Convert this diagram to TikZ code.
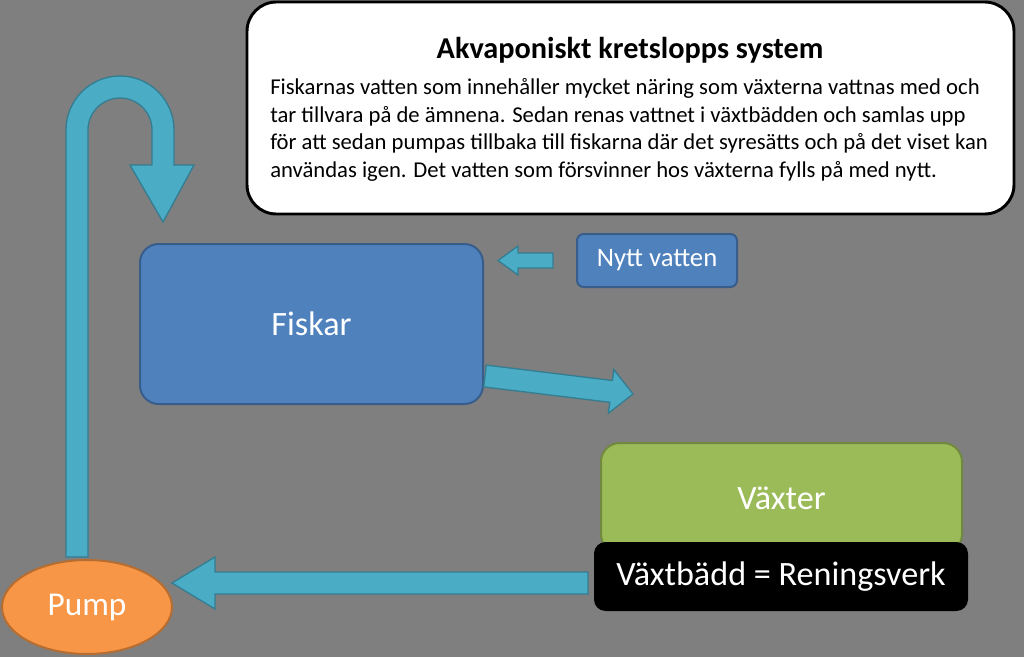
\documentclass[tikz,border=0pt]{standalone}
\usepackage{fontspec}
\setmainfont{Carlito}
\usetikzlibrary{shapes.geometric}
\definecolor{bg}{HTML}{7F7F7F}
\definecolor{fblue}{HTML}{4F81BD}\definecolor{dblue}{HTML}{385D8A}
\definecolor{aq}{HTML}{4BACC6}\definecolor{daq}{HTML}{357D91}
\definecolor{gr}{HTML}{9BBB59}\definecolor{dgr}{HTML}{71893F}
\definecolor{org}{HTML}{F79646}\definecolor{dorg}{HTML}{B66D31}
\begin{document}
\begin{tikzpicture}[x=0.75pt,y=-0.75pt,
  boxstyle/.style={draw, line width=1.5pt, rounded corners=14pt, text=white, align=center, inner sep=0pt},
  flow/.style={fill=aq, draw=daq, line width=1pt}]
\fill[bg] (0,0) rectangle (1024,657);
\useasboundingbox (0,0) rectangle (1024,657);
% title box
\node[draw=black, fill=white, line width=2.2pt, rounded corners=22pt, minimum width=767*0.75pt, minimum height=212*0.75pt] (title) at (630.5,108) {};
\node[font=\bfseries\fontsize{22.7}{26}\selectfont] (head) at (630,50) {Akvaponiskt kretslopps system};
\node[anchor=north west, align=left, font=\fontsize{17}{20.8}\selectfont, inner sep=0pt] (body) at (270,78) {Fiskarnas vatten som innehåller mycket näring som växterna vattnas med och\\tar tillvara på de ämnena. Sedan renas vattnet i växtbädden och samlas upp\\för att sedan pumpas tillbaka till fiskarna där det syresätts och på det viset kan\\användas igen. Det vatten som försvinner hos växterna fylls på med nytt.};
% boxes
\node[boxstyle, fill=fblue, draw=dblue, minimum width=343*0.75pt, minimum height=160*0.75pt, font=\fontsize{25.6}{28}\selectfont] (fisk) at (311.5,324) {Fiskar};
\node[boxstyle, fill=fblue, draw=dblue, rounded corners=5pt, minimum width=160*0.75pt, minimum height=53*0.75pt, font=\fontsize{20}{22}\selectfont] (nytt) at (657,260.5) {Nytt vatten};
\node[boxstyle, fill=gr, draw=dgr, minimum width=361*0.75pt, minimum height=110*0.75pt, font=\fontsize{25.6}{28}\selectfont] (vax) at (781.5,498) {Växter};
\node[boxstyle, fill=black, draw=black, rounded corners=8pt, minimum width=372*0.75pt, minimum height=67*0.75pt, font=\fontsize{25.6}{28}\selectfont] (bed) at (781,576.5) {Växtbädd = Reningsverk};
\node[ellipse, draw=dorg, fill=org, line width=1.5pt, minimum width=170*0.75pt, minimum height=94*0.75pt, inner sep=0pt, text=white, font=\fontsize{25}{28}\selectfont] (pump) at (87,607) {Pump};
% arrows
\draw[flow] (553,253) -- (518,253) -- (518,246) -- (498,260.5) -- (518,275) -- (518,268) -- (553,268) -- cycle;
\draw[flow] (483.7,386.9) -- (486.3,365.1) -- (612.4,380.5) -- (613.8,369.6) -- (633,394) -- (608.4,413.2) -- (609.8,402.3) -- cycle;
\draw[flow] (588,572) -- (215,572) -- (215,557) -- (172,583) -- (215,609) -- (215,594) -- (588,594) -- cycle;
\draw[flow] (66,557) -- (66,130) arc(180:360:54) -- (174,165) -- (194,165) -- (163,222) -- (130,165) -- (152,165) -- (152,130) arc(360:180:32) -- (88,557) -- cycle;
\end{tikzpicture}
\end{document}
